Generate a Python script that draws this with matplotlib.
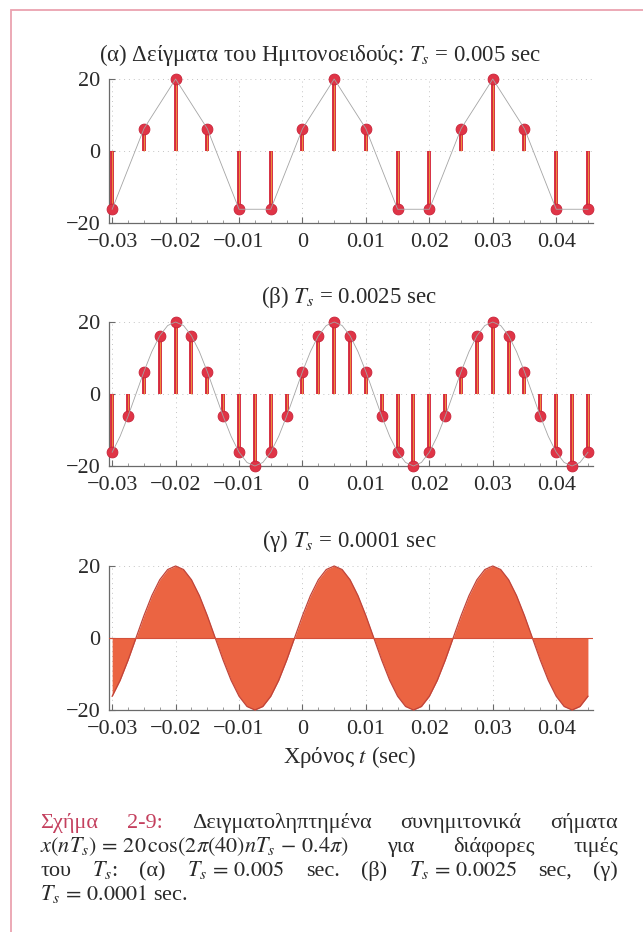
import numpy as np
import matplotlib
matplotlib.use("Agg")
import matplotlib.pyplot as plt
from matplotlib.patches import Rectangle
from matplotlib.ticker import MultipleLocator

plt.rcParams['font.family'] = ['Liberation Serif', 'DejaVu Serif']
plt.rcParams['mathtext.fontset'] = 'stix'
plt.rcParams['axes.unicode_minus'] = True

# sample values of x(nTs) = 20cos(2*pi*40*nTs - 0.4*pi), first sample at t = -0.03
T_START = -0.03
TS_A = 0.005
TS_B = 0.0025
TS_C = 0.00125   # spacing of the listed points for the dense (0.0001 s) curve

x_a = [-16.18, 6.18, 20, 6.18, -16.18, -16.18, 6.18, 20, 6.18, -16.18,
       -16.18, 6.18, 20, 6.18, -16.18, -16.18]

x_b = [-16.18, -6.18, 6.18, 16.18, 20, 16.18, 6.18, -6.18, -16.18, -20,
       -16.18, -6.18, 6.18, 16.18, 20, 16.18, 6.18, -6.18, -16.18, -20,
       -16.18, -6.18, 6.18, 16.18, 20, 16.18, 6.18, -6.18, -16.18, -20,
       -16.18]

x_c = [-16.18, -11.76, -6.18, 0, 6.18, 11.76, 16.18, 19.02, 20, 19.02,
       16.18, 11.76, 6.18, 0, -6.18, -11.76, -16.18, -19.02, -20, -19.02,
       -16.18, -11.76, -6.18, 0, 6.18, 11.76, 16.18, 19.02, 20, 19.02,
       16.18, 11.76, 6.18, 0, -6.18, -11.76, -16.18, -19.02, -20, -19.02,
       -16.18, -11.76, -6.18, 0, 6.18, 11.76, 16.18, 19.02, 20, 19.02,
       16.18, 11.76, 6.18, 0, -6.18, -11.76, -16.18, -19.02, -20, -19.02,
       -16.18]

x_ticks = [-0.03, -0.02, -0.01, 0, 0.01, 0.02, 0.03, 0.04]
x_ticklabels = ['−0.03', '−0.02', '−0.01', '0', '0.01', '0.02', '0.03', '0.04']
y_ticks = [-20, 0, 20]

titles = ['(α) Δείγματα του Ημιτονοειδούς: $T_s$ = 0.005 sec',
          '(β) $T_s$ = 0.0025 sec',
          '(γ) $T_s$ = 0.0001 sec']
xlabel = 'Χρόνος $t$ (sec)'

W, H = 643, 932
fig = plt.figure(figsize=(W / 100, H / 100), dpi=100)
fig.patch.set_facecolor('white')

TXT = '#2a2a2a'
RED = '#d52a3e'
GRAY = '#a4a4a4'


def times(values, step):
    return T_START + step * np.arange(len(values))


def style_axes(ax):
    ax.set_xlim(-0.0305, 0.0458)
    ax.set_ylim(-20, 20)
    for s in ['top', 'right']:
        ax.spines[s].set_visible(False)
    for s in ['left', 'bottom']:
        ax.spines[s].set_color('#6a6a6a')
        ax.spines[s].set_linewidth(0.9)
    ax.set_xticks(x_ticks)
    ax.set_xticklabels(x_ticklabels)
    ax.set_yticks(y_ticks)
    ax.set_yticklabels(['−20', '0', '20'])
    ax.xaxis.set_minor_locator(MultipleLocator(0.0025))
    ax.tick_params(direction='in', length=4, width=0.8, color='#6a6a6a',
                   labelsize=16, labelcolor=TXT)
    ax.tick_params(axis='x', pad=7)
    ax.tick_params(axis='y', pad=6)
    ax.tick_params(which='minor', direction='in', length=2, width=0.6,
                   color='#8a8a8a')
    for xt in x_ticks:
        ax.axvline(xt, color='#c4c4c4', lw=0.7, ls=(0, (1, 4)), zorder=0)
    for yt in [0, 20]:
        ax.axhline(yt, color='#c4c4c4', lw=0.7, ls=(0, (1, 4)), zorder=0)
    ax.patch.set_alpha(0)


def draw_stems(ax, t, x):
    ax.vlines(t, 0, x, color=RED, lw=2.8, zorder=3, clip_on=False)
    ax.vlines(t, 0, x, color='#f2a03c', lw=0.6, zorder=3.5, clip_on=False)
    ax.plot(t, x, 'o', ms=7.8, color='#e03446', mec='#c82238', mew=0.6,
            zorder=4, clip_on=False)


left = 109 / W
width = 484 / W
height = 144 / H
bottoms = [(H - 223) / H, (H - 466) / H, (H - 710) / H]

# (α) coarse sampling, grey line joins the samples
ax1 = fig.add_axes([left, bottoms[0], width, height])
style_axes(ax1)
t_a = times(x_a, TS_A)
draw_stems(ax1, t_a, x_a)
ax1.plot(t_a, x_a, color=GRAY, lw=0.6, zorder=5, clip_on=False)

# (β) finer sampling with the continuous signal in grey
ax2 = fig.add_axes([left, bottoms[1], width, height])
style_axes(ax2)
t_b = times(x_b, TS_B)
t_c = times(x_c, TS_C)
draw_stems(ax2, t_b, x_b)
ax2.plot(t_c, x_c, color=GRAY, lw=0.6, zorder=5, clip_on=False)

# (γ) dense sampling, stems merge into a filled shape
ax3 = fig.add_axes([left, bottoms[2], width, height])
style_axes(ax3)
ax3.fill_between(t_c, x_c, 0, color='#eb6442', lw=0, zorder=3)
ax3.plot(t_c, x_c, color='#c0443a', lw=0.9, zorder=4, clip_on=False)
ax3.axhline(0, color='#d4503a', lw=0.8, zorder=4)

title_x = [320, 349, 349]
title_y = [55, 297, 541]
for tx, ty, s in zip(title_x, title_y, titles):
    fig.text(tx / W, 1 - ty / H, s, ha='center', va='center',
             fontsize=16.5, color=TXT)
fig.text(350 / W, 1 - 757 / H, xlabel, ha='center', va='center',
         fontsize=16.5, color=TXT)

# page frame (left and top edges, right edge just off the page)
fig.patches.append(Rectangle((11 / W, -0.05), 700 / W, 1 - 10 / H + 0.05,
                             transform=fig.transFigure, fill=False,
                             ec='#eba2b0', lw=1.3))

# justified caption, words aligned on a common baseline
CAP_L, CAP_R = 40, 618
cap_red = '#c4405e'
caption = [
    [('Σχήμα', cap_red), ('2-9:', cap_red), ('Δειγματοληπτημένα', TXT),
     ('συνημιτονικά', TXT), ('σήματα', TXT)],
    [(r'$x(nT_s)\, =\, 20\,\cos(2\pi(40)nT_s\, -\, 0.4\pi)$', TXT),
     ('για', TXT), ('διάφορες', TXT), ('τιμές', TXT)],
    [('του', TXT), ('$T_s$:', TXT), ('(α)', TXT), (r'$T_s\, =\, 0.005$', TXT),
     ('sec.', TXT), ('(β)', TXT), (r'$T_s\, =\, 0.0025$', TXT), ('sec,', TXT),
     ('(γ)', TXT)],
]
cap_base = [828, 852, 876]
CAP_FS = 16

renderer = fig.canvas.get_renderer()
for words, y in zip(caption, cap_base):
    objs = [fig.text(0, 1 - y / H, w, color=c, fontsize=CAP_FS,
                     ha='left', va='baseline') for w, c in words]
    widths = [o.get_window_extent(renderer).width for o in objs]
    gap = (CAP_R - CAP_L - sum(widths)) / (len(objs) - 1)
    xpos = CAP_L
    for o, w in zip(objs, widths):
        o.set_x(xpos / W)
        xpos += w + gap
fig.text(CAP_L / W, 1 - 900 / H, r'$T_s\, =\, 0.0001$ sec.', color=TXT,
         fontsize=CAP_FS, ha='left', va='baseline')

fig.savefig('out.png', dpi=100, facecolor='white')
